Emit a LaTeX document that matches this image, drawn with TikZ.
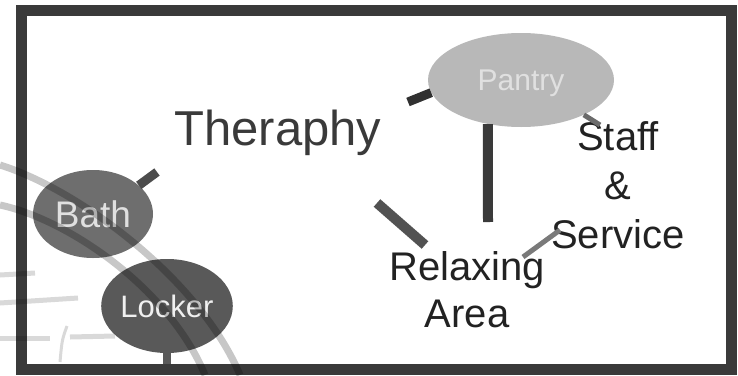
\documentclass[tikz,border=0pt]{standalone}
\usepackage{fontspec}
\setmainfont{Liberation Sans}
\usetikzlibrary{shapes.geometric}
\definecolor{framegray}{HTML}{3A3A3A}
\definecolor{inkgray}{HTML}{222222}
\definecolor{pantrygray}{HTML}{B8B8B8}
\definecolor{bathgray}{HTML}{6E6E6E}
\definecolor{lockergray}{HTML}{595959}
\begin{document}
\begin{tikzpicture}[x=1pt,y=-1pt,
  room/.style={ellipse,inner sep=0pt,text depth=0pt},
  word/.style={text=inkgray,align=center,anchor=base},
  bar/.style={line width=9pt,draw=#1},
  seal/.style={line width=7pt,black,opacity=.22}]
  \useasboundingbox (0,0) rectangle (738,375);
  % outer frame
  \draw[line width=11pt,framegray] (21,10) rectangle (731,369);
  % rooms drawn as ellipses
  \node[room,fill=pantrygray,minimum width=186pt,minimum height=94pt,
        text=white!88!black,font=\fontsize{30}{36}\selectfont] (pantry) at (521,80) {Pantry};
  \node[room,fill=bathgray,minimum width=120pt,minimum height=88pt,
        text=white!88!black,font=\fontsize{37}{44}\selectfont] (bath) at (93,214) {Bath};
  \node[room,fill=lockergray,minimum width=120pt,minimum height=94pt,
        text=white!94!black,font=\fontsize{31}{37}\selectfont] (locker) at (167,306) {Locker};
  % rooms written as text (base = last line)
  \node[word,text=framegray,font=\fontsize{49}{58}\selectfont] (therapy) at (278,145) {Theraphy};
  \node[word,font=\fontsize{40}{47}\selectfont] (relax) at (467,327) {Relaxing\\Area};
  \node[word,font=\fontsize{40}{49}\selectfont] (staff) at (618,248) {Staff\\\&\\Service};
  % loose ends of the links
  \coordinate (pantryW) at (408,102);
  \coordinate (pantryS) at (488,222);
  \coordinate (pantryE) at (600,125);
  \coordinate (bathNE) at (157,172);
  \coordinate (lockerS) at (167,364);
  \coordinate (relaxA) at (377,203);
  \coordinate (relaxB) at (425,245);
  \coordinate (relaxC) at (523,257);
  \coordinate (relaxD) at (560,230);
  % links
  \draw[bar=framegray!85!black] (pantry.188) -- (pantryW);
  \draw[bar=framegray,line width=10pt] (pantry.233) -- (pantryS);
  \draw[bar=black!58,line width=5pt] (pantry.331) -- (pantryE);
  \draw[bar=black!70] (bath.32) -- (bathNE);
  \draw[bar=lockergray,line width=8pt] (locker.south) -- (lockerS);
  \draw[bar=black!68,line width=10pt] (relaxA) -- (relaxB);
  \draw[bar=black!52,line width=5pt] (relaxC) -- (relaxD);
  % faint seal lines at the lower left
  \draw[seal] (0,165) .. controls (80,190) and (200,280) .. (240,375);
  \draw[seal] (0,205) .. controls (70,220) and (170,290) .. (205,375);
  \draw[seal,line width=5pt,opacity=.15] (0,275) -- (35,273);
  \draw[seal,line width=5pt,opacity=.15] (0,303) -- (78,298);
  \draw[seal,line width=5pt,opacity=.15] (0,338) -- (50,338);
  \draw[seal,line width=5pt,opacity=.15] (70,337) -- (115,336);
  \draw[seal,line width=3pt,opacity=.15] (60,362) .. controls (62,340) .. (67,326);
\end{tikzpicture}
\end{document}
